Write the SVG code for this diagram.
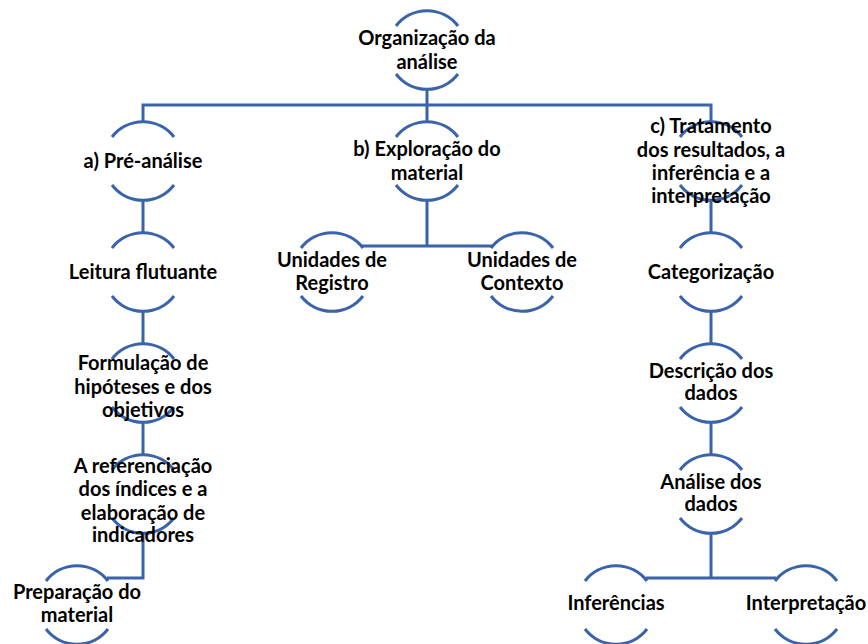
<svg xmlns="http://www.w3.org/2000/svg" xmlns:xlink="http://www.w3.org/1999/xlink" width="868" height="644" viewBox="0 0 868 644">
<style>
.arc{fill:none;stroke:#3B63AA;stroke-width:3}
.con{fill:none;stroke:#3B63AA;stroke-width:3}
text{font-family:Lato,"Liberation Sans",sans-serif;font-weight:bold;font-size:20px;fill:#000;text-anchor:middle}
</style>
<defs>
<path id="arcs" class="arc" d="M-31,-24 A39,39 0 0 1 31,-24 M-31,24 A39,39 0 0 0 31,24"/>
</defs>
<rect width="868" height="644" fill="#fff"/>
<g id="connectors" class="con">
<path d="M427,89 V105 M143,122 V105 H711 V122 M427,105 V122"/>
<path d="M143,200 V233 M143,311 V344 M143,422 V455 M143,533 V578 H107"/>
<path d="M427,200 V246 M362,246 H492"/>
<path d="M711,200 V233 M711,311 V344 M711,422 V455 M711,533 V578 M646,578 H776"/>
</g>
<g id="n-org"><use xlink:href="#arcs" x="427" y="50"/><text x="427" y="45">Organização da</text><text x="427" y="69">análise</text></g>
<g id="n-pre"><use xlink:href="#arcs" x="143" y="161"/><text x="143" y="168">a) Pré-análise</text></g>
<g id="n-exp"><use xlink:href="#arcs" x="427" y="161"/><text x="427" y="156">b) Exploração do</text><text x="427" y="180">material</text></g>
<g id="n-trat"><use xlink:href="#arcs" x="711" y="161"/><text x="711" y="133">c) Tratamento</text><text x="711" y="157">dos resultados, a</text><text x="711" y="180">inferência e a</text><text x="711" y="203">interpretação</text></g>
<g id="n-leit"><use xlink:href="#arcs" x="143" y="272"/><text x="143" y="279">Leitura flutuante</text></g>
<g id="n-reg"><use xlink:href="#arcs" x="332" y="272"/><text x="332" y="267">Unidades de</text><text x="332" y="290">Registro</text></g>
<g id="n-ctx"><use xlink:href="#arcs" x="522" y="272"/><text x="522" y="267">Unidades de</text><text x="522" y="290">Contexto</text></g>
<g id="n-cat"><use xlink:href="#arcs" x="711" y="272"/><text x="711" y="279">Categorização</text></g>
<g id="n-form"><use xlink:href="#arcs" x="143" y="383"/><text x="143" y="370">Formulação de</text><text x="143" y="394">hipóteses e dos</text><text x="143" y="417">objetivos</text></g>
<g id="n-desc"><use xlink:href="#arcs" x="711" y="383"/><text x="711" y="378">Descrição dos</text><text x="711" y="400">dados</text></g>
<g id="n-ref"><use xlink:href="#arcs" x="143" y="494"/><text x="143" y="473">A referenciação</text><text x="143" y="496">dos índices e a</text><text x="143" y="520">elaboração de</text><text x="143" y="542">indicadores</text></g>
<g id="n-anal"><use xlink:href="#arcs" x="711" y="494"/><text x="711" y="489">Análise dos</text><text x="711" y="511">dados</text></g>
<g id="n-prep"><use xlink:href="#arcs" x="77" y="605"/><text x="77" y="599">Preparação do</text><text x="77" y="622">material</text></g>
<g id="n-inf"><use xlink:href="#arcs" x="616" y="605"/><text x="616" y="610">Inferências</text></g>
<g id="n-int"><use xlink:href="#arcs" x="806" y="605"/><text x="806" y="610">Interpretação</text></g>
</svg>
